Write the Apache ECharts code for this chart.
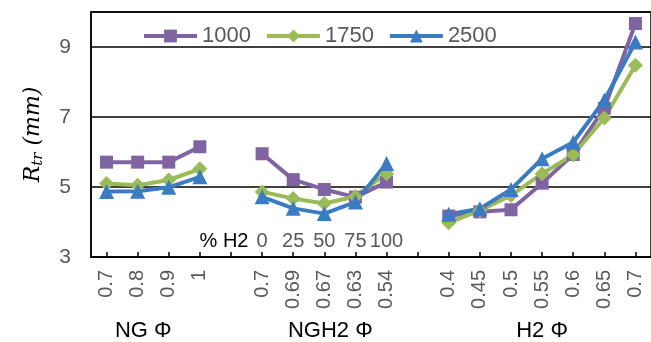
<!DOCTYPE html>
<html>
<head>
<meta charset="utf-8">
<script src="https://cdn.jsdelivr.net/npm/echarts@6/dist/echarts.min.js"></script>
<style>
  html, body { margin: 0; padding: 0; background: #fff; }
  #main { width: 651px; height: 342px; }
</style>
</head>
<body>
<div id="main"></div>
<script>
// categories: NG phi, gap, NGH2 phi, gap, H2 phi
var categories = ['0.7', '0.8', '0.9', '1', '', '0.7', '0.69', '0.67', '0.63', '0.54', '',
    '0.4', '0.45', '0.5', '0.55', '0.6', '0.65', '0.7'];
// % H2 row, shown over the NGH2 group
var h2Labels = ['', '', '', '', '% H2', '0', '25', '50', '75', '100', '',
    '', '', '', '', '', '', ''];
var groupNames = ['NG Φ', 'NGH2 Φ', 'H2 Φ'];
var seriesNames = ['1000', '1750', '2500'];

var r1000 = [5.71, 5.71, 5.71, 6.15, null, 5.95, 5.21, 4.93, 4.71, 5.14, null,
    4.17, 4.29, 4.35, 5.11, 5.93, 7.25, 9.67];
var r1750 = [5.10, 5.05, 5.20, 5.52, null, 4.86, 4.67, 4.53, 4.73, 5.38, null,
    3.98, 4.33, 4.76, 5.38, 5.92, 6.97, 8.48];
var r2500 = [4.87, 4.88, 4.99, 5.29, null, 4.72, 4.39, 4.24, 4.57, 5.67, null,
    4.22, 4.38, 4.93, 5.81, 6.28, 7.48, 9.14];

var yTicks = [3, 5, 7, 9];

var font = 'Liberation Sans, Arial, sans-serif';
var grey = '#595959';

var chart = echarts.init(document.getElementById('main'));

function makeSeries(name, data, color, symbol, size) {
    return {
        name: name,
        type: 'line',
        data: data,
        xAxisIndex: 0,
        symbol: symbol,
        symbolSize: size,
        lineStyle: { color: color, width: 4 },
        itemStyle: { color: color },
        connectNulls: false,
        animation: false
    };
}

var option = {
    animation: false,
    grid: {
        left: 91, top: 12, width: 562, height: 245,
        show: true, borderColor: '#000', borderWidth: 1.5
    },
    legend: {
        left: 142, top: 25, padding: 0,
        itemWidth: 53, itemHeight: 16, itemGap: 14,
        lineStyle: { width: 4 },
        textStyle: { fontFamily: font, fontSize: 22, color: grey },
        data: seriesNames
    },
    xAxis: [{
        type: 'category',
        data: categories,
        boundaryGap: true,
        position: 'bottom',
        axisLine: { lineStyle: { color: '#000', width: 1.5 } },
        axisTick: { show: true, inside: true, length: 5, alignWithLabel: true, interval: 0,
            lineStyle: { color: '#000', width: 1.5 } },
        axisLabel: { interval: 0, rotate: 90, margin: 13, fontFamily: font, fontSize: 20, color: grey }
    }, {
        type: 'category',
        data: h2Labels,
        boundaryGap: true,
        position: 'bottom',
        axisLine: { show: false },
        axisTick: { show: false },
        axisLabel: {
            inside: true, interval: 0, margin: 6,
            fontFamily: font, fontSize: 20, color: grey,
            formatter: function (v) {
                return v === '% H2' ? '{b|' + v + '}' : v;
            },
            rich: {
                b: { fontFamily: font, fontSize: 20, color: '#000', padding: [0, 14, 0, 0] }
            }
        }
    }],
    yAxis: {
        type: 'value',
        min: 3, max: 10, interval: 2,
        name: '{i|R}{s|tr}{i| (mm)}',
        nameLocation: 'middle',
        nameRotate: 90,
        nameGap: 45,
        nameTextStyle: {
            rich: {
                i: { fontFamily: 'DejaVu Serif', fontStyle: 'italic', fontSize: 22, color: '#000' },
                s: { fontFamily: 'DejaVu Serif', fontStyle: 'italic', fontSize: 15, color: '#000',
                    padding: [10, 0, 0, 0] }
            }
        },
        axisLine: { show: true, lineStyle: { color: '#000', width: 1.5 } },
        axisTick: { show: false },
        axisLabel: {
            margin: 20, fontFamily: font, fontSize: 21, color: grey,
            formatter: function (v) { return yTicks.indexOf(v) >= 0 ? v : ''; }
        },
        splitLine: { lineStyle: { color: '#000', width: 1.5 } }
    },
    series: [
        makeSeries(seriesNames[0], r1000, '#8064A2', 'rect', 13),
        makeSeries(seriesNames[1], r1750, '#9BBB59', 'diamond', 15),
        makeSeries(seriesNames[2], r2500, '#3B7BC2', 'triangle', 15)
    ]
};
chart.setOption(option);

// group titles under the axis, centred on their category blocks
var groupCenters = [
    (chart.convertToPixel({ xAxisIndex: 0 }, 0) + chart.convertToPixel({ xAxisIndex: 0 }, 3)) / 2 - 10,
    (chart.convertToPixel({ xAxisIndex: 0 }, 5) + chart.convertToPixel({ xAxisIndex: 0 }, 9)) / 2 + 6,
    chart.convertToPixel({ xAxisIndex: 0 }, 14)
];
chart.setOption({
    graphic: groupNames.map(function (t, i) {
        return {
            type: 'text',
            x: groupCenters[i],
            y: 331,
            style: {
                text: t, fontFamily: font, fontSize: 22, fill: '#000',
                align: 'center', verticalAlign: 'middle'
            }
        };
    })
});
</script>
</body>
</html>
